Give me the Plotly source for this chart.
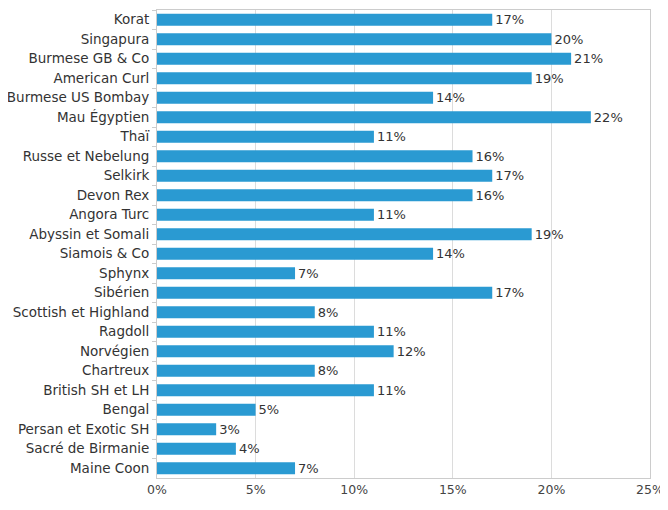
import plotly.graph_objects as go

races = ["Korat", "Singapura", "Burmese GB & Co", "American Curl", "Burmese US Bombay",
         "Mau Égyptien", "Thaï", "Russe et Nebelung", "Selkirk", "Devon Rex",
         "Angora Turc", "Abyssin et Somali", "Siamois & Co", "Sphynx", "Sibérien",
         "Scottish et Highland", "Ragdoll", "Norvégien", "Chartreux", "British SH et LH",
         "Bengal", "Persan et Exotic SH", "Sacré de Birmanie", "Maine Coon"]
pourcentages = [17, 20, 21, 19, 14, 22, 11, 16, 17, 16,
                11, 19, 14, 7, 17, 8, 11, 12, 8, 11,
                5, 3, 4, 7]
x_ticks = [0, 5, 10, 15, 20, 25]
x_tick_labels = ["0%", "5%", "10%", "15%", "20%", "25%"]

fig = go.Figure(go.Bar(
    x=pourcentages, y=races, orientation="h",
    marker=dict(color="#2a9ad2", line=dict(width=0)),
    text=[f"{v}%" for v in pourcentages], textposition="outside",
    textfont=dict(size=13, color="#333333"),
    constraintext="none",
    cliponaxis=False,
))

fig.update_layout(
    width=660, height=502,
    margin=dict(l=149, r=18, t=2, b=32, autoexpand=False),
    paper_bgcolor="white", plot_bgcolor="white",
    font=dict(family="DejaVu Sans", size=12, color="#333333"),
    bargap=0.38,
    showlegend=False,
    xaxis=dict(range=[0, 25], tickvals=x_ticks, ticktext=x_tick_labels,
               showgrid=True, gridcolor="#dcdcdc", gridwidth=1, automargin=False,
               zeroline=False, showline=True, linecolor="#cccccc", mirror=True,
               ticks="", tickfont=dict(size=12.5, color="#444444")),
    yaxis=dict(autorange="reversed", showgrid=False, zeroline=False, automargin=False,
               showline=True, linecolor="#cccccc", mirror=True,
               ticks="outside", ticklen=4, tickcolor="#cccccc", tickson="boundaries",
               tickfont=dict(size=13.5, color="#333333"), ticklabelstandoff=4),
)

fig.write_html("out.html")
